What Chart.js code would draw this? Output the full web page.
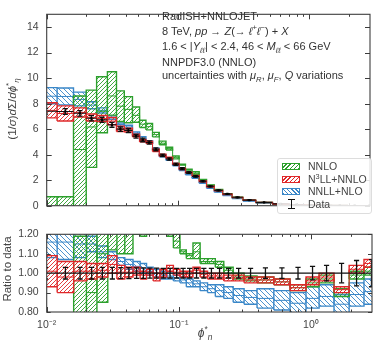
<!DOCTYPE html>
<html><head><meta charset="utf-8">
<script src="https://cdn.jsdelivr.net/npm/chart.js@4.4.0/dist/chart.umd.min.js"></script>
<style>
body{margin:0;background:#fff;width:374px;height:340px;overflow:hidden;position:relative;font-family:"Liberation Sans",Arial,sans-serif;color:#333}
canvas{position:absolute;left:0}
#c1{top:0}
#c2{top:220px}
.t{position:absolute;left:162px;font-size:11px;line-height:13px;white-space:nowrap;color:#333}
.t sub,.t sup{font-size:70%;line-height:0}
.ax{position:absolute;font-size:11.5px;line-height:14px;white-space:nowrap;color:#444;transform:translate(-50%,-50%) rotate(-90deg)}
.ax sub,.ax sup{font-size:70%;line-height:0}
#xt{position:absolute;left:205px;top:333px;transform:translate(-50%,-50%);font-size:12px;color:#444;white-space:nowrap}
#xt sub,#xt sup{font-size:70%;line-height:0}
#leg{position:absolute;left:277px;top:158px;width:95px;height:56px;background:rgba(255,255,255,0.85);border:1px solid #ddd;border-radius:3px;box-sizing:border-box}
.le{position:absolute;left:30px;font-size:10.5px;line-height:12px;color:#444;white-space:nowrap}
.le sup{font-size:70%;line-height:0}
.pt{position:absolute;left:4px;width:18px;height:7px;box-sizing:border-box;border:1.5px solid}
</style></head><body>
<canvas id="c1" width="374" height="220"></canvas>
<canvas id="c2" width="374" height="120"></canvas>

<div class="t" style="top:10px">RadISH+NNLOJET</div>
<div class="t" style="top:25px">8 TeV, <i>pp</i> → <i>Z</i>(→ <i>ℓ</i><sup>+</sup><i>ℓ</i><sup>−</sup>) + <i>X</i></div>
<div class="t" style="top:40px">1.6 &lt; |<i>Y</i><sub><i>ℓℓ</i></sub>| &lt; 2.4, 46 &lt; <i>M</i><sub><i>ℓℓ</i></sub> &lt; 66 GeV</div>
<div class="t" style="top:56px">NNPDF3.0 (NNLO)</div>
<div class="t" style="top:69px">uncertainties with <i>μ</i><sub><i>R</i></sub>, <i>μ</i><sub><i>F</i></sub>, <i>Q</i> variations</div>

<div class="ax" style="left:12px;top:109px">(1/<i>σ</i>)<i>d</i>Σ/<i>dϕ</i><sup>*</sup><sub><i>η</i></sub></div>
<div class="ax" style="left:7px;top:269px">Ratio to data</div>
<div id="xt"><i>ϕ</i><sup>*</sup><sub><i>η</i></sub></div>

<div id="leg">
 <div class="pt" style="top:4px;border-color:#2ca02c;background:repeating-linear-gradient(-45deg,#2ca02c 0 1px,#fff 1px 3px)"></div><div class="le" style="top:1px">NNLO</div>
 <div class="pt" style="top:17px;border-color:#e0282a;background:repeating-linear-gradient(-45deg,#e0282a 0 1px,#fff 1px 3px)"></div><div class="le" style="top:14px">N<sup>3</sup>LL+NNLO</div>
 <div class="pt" style="top:29px;border-color:#3a87c8;background:repeating-linear-gradient(45deg,#3a87c8 0 1px,#fff 1px 3px)"></div><div class="le" style="top:26px">NNLL+NLO</div>
 <div style="position:absolute;left:13px;top:40px;width:1.3px;height:10px;background:#111"></div>
 <div style="position:absolute;left:10px;top:40px;width:7px;height:1.3px;background:#111"></div>
 <div style="position:absolute;left:10px;top:49px;width:7px;height:1.3px;background:#111"></div>
 <div class="le" style="top:39px">Data</div>
</div>

<script>
// ---------- data ----------
const phiEdges = [0.008,0.012,0.016,0.020,0.024,0.029,0.034,0.039,0.045,0.051,0.057,0.064,0.072,0.081,0.091,0.102,0.114,0.128,0.145,0.165,0.189,0.219,0.258,0.312,0.391,0.524,0.695,0.918,1.153,1.496,1.947,2.522,3.277];

const dataVals   = [7.40,7.38,7.24,6.85,6.73,6.34,6.00,5.90,5.45,5.15,4.95,4.42,3.95,3.66,3.25,2.90,2.60,2.30,1.92,1.52,1.20,0.92,0.66,0.44,0.26,0.14,0.075,0.040,0.022,0.012,0.006,0.003];
const dataRelErr = [0.03,0.03,0.03,0.03,0.03,0.03,0.028,0.028,0.027,0.027,0.026,0.026,0.025,0.025,0.025,0.025,0.025,0.025,0.025,0.025,0.025,0.025,0.025,0.025,0.027,0.027,0.03,0.035,0.04,0.05,0.065,0.07];

// NNLO (top panel)
const nnloLo  = [-2,-2,-2,3.0,5.72,7.1,6.6,6.5,6.54,6.13,5.94,5.39,4.78,4.36,3.67,3.19,2.80,2.47,2.02,1.60,1.24,0.92,0.64,0.422,0.247,0.132,0.068,0.037,0.021,0.0106,0.0058,0.0030];
const nnloMid = [-1,-1,4.4,6.17,7.4,8.6,7.8,7.55,7.08,6.39,6.19,5.57,4.90,4.47,3.79,3.22,2.83,2.55,2.04,1.61,1.25,0.934,0.65,0.427,0.251,0.134,0.069,0.038,0.0213,0.0108,0.0059,0.0030];
const nnloHi  = [0.7,0.7,8.6,9.06,10.1,10.5,9.0,8.55,7.74,6.7,6.44,5.75,5.06,4.58,3.9,3.25,2.86,2.66,2.06,1.63,1.27,0.948,0.66,0.433,0.255,0.136,0.0705,0.039,0.0218,0.011,0.0061,0.0031];
// N3LL+NNLO (top panel)
const n3llLo  = [6.88,6.64,6.95,6.64,6.60,6.34,5.82,5.78,5.40,5.00,4.90,4.24,3.87,3.70,3.22,2.84,2.55,2.30,1.88,1.47,1.16,0.88,0.63,0.42,0.247,0.132,0.068,0.0376,0.0211,0.0108,0.0060,0.0031];
const n3llMid = [7.47,7.23,7.31,6.92,6.83,6.63,6.03,5.93,5.50,5.10,4.97,4.33,3.95,3.75,3.27,2.89,2.59,2.33,1.91,1.50,1.18,0.90,0.64,0.425,0.251,0.134,0.069,0.0384,0.0216,0.0110,0.0061,0.0032];
const n3llHi  = [8.07,7.82,7.67,7.19,7.07,6.91,6.24,6.08,5.61,5.20,5.05,4.42,4.03,3.81,3.32,2.93,2.63,2.37,1.94,1.52,1.20,0.91,0.65,0.43,0.255,0.136,0.0705,0.0392,0.022,0.0112,0.0062,0.0032];
// NNLL+NLO (top panel)
const nnllLo  = [7.99,7.90,7.82,7.60,7.27,6.78,6.24,6.02,5.50,5.15,4.90,4.33,3.83,3.55,3.12,2.76,2.42,2.14,1.75,1.37,1.06,0.80,0.56,0.37,0.213,0.113,0.059,0.033,0.018,0.0095,0.0050,0.0025];
const nnllMid = [8.58,8.56,8.33,7.88,7.47,6.91,6.36,6.17,5.64,5.28,5.00,4.42,3.91,3.61,3.17,2.80,2.47,2.17,1.79,1.40,1.09,0.83,0.58,0.385,0.226,0.120,0.063,0.035,0.019,0.010,0.0053,0.0027];
const nnllHi  = [9.25,9.23,8.90,8.15,7.67,7.04,6.48,6.31,5.78,5.41,5.10,4.51,3.99,3.66,3.22,2.84,2.52,2.21,1.82,1.43,1.13,0.86,0.61,0.40,0.239,0.127,0.068,0.037,0.021,0.0107,0.0057,0.0029];

// Ratio panel (theory / data)
const rNnloLo  = [0,0,0,0.45,0.85,1.12,1.1,1.1,1.2,1.19,1.2,1.22,1.21,1.19,1.13,1.10,1.075,1.075,1.05,1.05,1.03,1.0,0.97,0.96,0.95,0.94,0.91,0.93,0.95,0.88,0.97,0.99];
const rNnloMid = [0.05,0.05,0.61,0.9,1.1,1.35,1.3,1.28,1.3,1.24,1.25,1.26,1.24,1.22,1.165,1.11,1.09,1.11,1.06,1.06,1.045,1.015,0.985,0.97,0.965,0.955,0.925,0.95,0.97,0.9,0.99,1.01];
const rNnloHi  = [0.1,0.1,1.19,1.32,1.5,1.66,1.5,1.45,1.42,1.3,1.3,1.3,1.28,1.25,1.2,1.12,1.1,1.155,1.075,1.075,1.06,1.03,1.0,0.985,0.98,0.97,0.94,0.97,0.99,0.92,1.01,1.03];
const rN3llLo  = [0.93,0.90,0.96,0.97,0.98,1.00,0.97,0.98,0.99,0.97,0.99,0.96,0.98,1.01,0.99,0.98,0.98,1.00,0.98,0.97,0.97,0.96,0.96,0.95,0.95,0.94,0.91,0.94,0.96,0.90,1.00,1.03];
const rN3llMid = [1.01,0.98,1.01,1.01,1.015,1.045,1.005,1.005,1.01,0.99,1.005,0.98,1.0,1.025,1.005,0.995,0.995,1.015,0.995,0.985,0.985,0.975,0.975,0.965,0.965,0.955,0.925,0.96,0.98,0.915,1.02,1.05];
const rN3llHi  = [1.09,1.06,1.06,1.05,1.05,1.09,1.04,1.03,1.03,1.01,1.02,1.00,1.02,1.04,1.02,1.01,1.01,1.03,1.01,1.00,1.00,0.99,0.99,0.98,0.98,0.97,0.94,0.98,1.00,0.93,1.04,1.07];
const rNnllLo  = [1.08,1.07,1.08,1.11,1.08,1.07,1.04,1.02,1.01,1.00,0.99,0.98,0.97,0.97,0.96,0.95,0.93,0.93,0.91,0.90,0.88,0.87,0.85,0.84,0.82,0.81,0.79,0.82,0.83,0.79,0.83,0.84];
const rNnllMid = [1.16,1.16,1.15,1.15,1.11,1.09,1.06,1.045,1.035,1.025,1.01,1.0,0.99,0.985,0.975,0.965,0.95,0.945,0.93,0.92,0.91,0.90,0.885,0.875,0.87,0.86,0.845,0.87,0.88,0.84,0.89,0.905];
const rNnllHi  = [1.25,1.25,1.23,1.19,1.14,1.11,1.08,1.07,1.06,1.05,1.03,1.02,1.01,1.00,0.99,0.98,0.97,0.96,0.95,0.94,0.94,0.93,0.92,0.91,0.92,0.91,0.90,0.93,0.94,0.89,0.95,0.97];

// axes
const xMin = 0.01, xMax = 2.9;
const xMajorTicks = [0.01, 0.1, 1];
const xMajorLabels = ['10⁻²', '10⁻¹', '10⁰'];
const yTicksTop = [0,2,4,6,8,10,12,14];
const yTicksRatio = [0.80,0.85,0.90,0.95,1.00,1.05,1.10,1.15,1.20];

// ---------- styling ----------
const GREEN = '#2ca02c', RED = '#e0282a', BLUE = '#3a87c8';
const FRAME = '#3c3c3c', TICKTXT = '#444';
const FONT = '"Liberation Sans", Arial, sans-serif';

function hatch(color, dir, s){
  const c = document.createElement('canvas'); c.width = c.height = s;
  const g = c.getContext('2d'); g.strokeStyle = color; g.lineWidth = 0.9;
  g.beginPath();
  if (dir > 0){ g.moveTo(-1,s+1); g.lineTo(s+1,-1); g.moveTo(-1,1); g.lineTo(1,-1); g.moveTo(s-1,s+1); g.lineTo(s+1,s-1); }
  else { g.moveTo(-1,-1); g.lineTo(s+1,s+1); g.moveTo(-1,s-1); g.lineTo(1,s+1); g.moveTo(s-1,-1); g.lineTo(s+1,1); }
  g.stroke();
  return g.createPattern(c, 'repeat');
}

// x tick list (decades plus 2..9 minors)
const xTickList = [];
for (const d of xMajorTicks){ for (let k=1;k<=9;k++){ const v = +(d*k).toPrecision(3); if (v>=xMin && v<=xMax) xTickList.push({value:v, major:k===1}); } }

function bandSets(lo, mid, hi, color, pattern){
  const step = arr => phiEdges.map((e,i)=>({x:e, y:arr[Math.min(i, arr.length-1)]}));
  const outline = [];
  for (let i=0;i<lo.length;i++){
    outline.push({x:phiEdges[i],y:lo[i]},{x:phiEdges[i],y:hi[i]},{x:phiEdges[i+1],y:hi[i]},{x:phiEdges[i+1],y:lo[i]},{x:phiEdges[i],y:lo[i]},{x:phiEdges[i],y:null});
  }
  return [
    {data:outline, borderColor:color, borderWidth:1.4, spanGaps:false, fill:false},
    {data:step(mid), borderColor:color, borderWidth:1, stepped:'before', fill:false},
    {data:step(lo), borderColor:'rgba(0,0,0,0)', borderWidth:0, stepped:'before', fill:false},
    {data:step(hi), borderColor:'rgba(0,0,0,0)', borderWidth:0, stepped:'before', fill:'-1', backgroundColor:pattern},
  ];
}

function dataSets(cent, err, withPoints){
  const capF = Math.pow(10, 2.6/132);
  const h=[], v=[], caps=[], pts=[];
  for (let i=0;i<cent.length;i++){
    const c = Math.sqrt(phiEdges[i]*phiEdges[i+1]);
    h.push({x:phiEdges[i],y:cent[i]},{x:phiEdges[i+1],y:cent[i]},{x:phiEdges[i+1],y:null});
    v.push({x:c,y:cent[i]-err[i]},{x:c,y:cent[i]+err[i]},{x:c,y:null});
    for (const s of [-1,1]) caps.push({x:c/capF,y:cent[i]+s*err[i]},{x:c*capF,y:cent[i]+s*err[i]},{x:c,y:null});
    pts.push({x:c,y:cent[i]});
  }
  const out = [
    {data:v, borderColor:'#111', borderWidth:1.3, spanGaps:false, fill:false},
    {data:caps, borderColor:'#111', borderWidth:1.3, spanGaps:false, fill:false},
    {data:h, borderColor:'#111', borderWidth:1.1, spanGaps:false, fill:false},
  ];
  if (withPoints) out.unshift({data:pts, showLine:false, pointRadius:1.6, pointStyle:'rect', pointBackgroundColor:'#000', pointBorderWidth:0});
  return out;
}

const framePlugin = {
  id:'frame',
  afterDatasetsDraw(chart){
    const {ctx, chartArea:a, scales} = chart;
    ctx.save();
    ctx.strokeStyle = FRAME; ctx.lineWidth = 1;
    const ln = (x1,y1,x2,y2)=>{ ctx.beginPath(); ctx.moveTo(x1,y1); ctx.lineTo(x2,y2); ctx.stroke(); };
    scales.x.ticks.forEach(t=>{
      const px = Math.round(scales.x.getPixelForValue(t.value))+0.5;
      if (px < a.left || px > a.right) return;
      const L = t.major ? 5 : 2.5;
      ln(px,a.bottom,px,a.bottom-L); ln(px,a.top,px,a.top+L);
    });
    scales.y.ticks.forEach(t=>{
      const py = Math.round(scales.y.getPixelForValue(t.value))+0.5;
      const L = chart.canvas.id==='c1' ? 5 : 4;
      ln(a.left,py,a.left+L,py); ln(a.right,py,a.right-L,py);
    });
    ctx.lineWidth = 1.1;
    ctx.strokeRect(a.left, a.top, a.right-a.left, a.bottom-a.top);
    ctx.restore();
  }
};

function makeChart(id, sets, yMin, yMax, yTicks, yFmt, showX, pad, xHeight){
  return new Chart(document.getElementById(id), {
    type:'line',
    data:{datasets:sets},
    options:{
      responsive:false, animation:false, events:[], normalized:true,
      layout:{padding:pad},
      plugins:{legend:{display:false}, tooltip:{enabled:false}},
      elements:{point:{radius:0}, line:{tension:0}},
      scales:{
        x:{type:'logarithmic', min:xMin, max:xMax,
           grid:{display:false, drawTicks:false}, border:{display:false},
           afterBuildTicks:s=>{ s.ticks = xTickList.map(t=>({value:t.value, major:t.major})); },
           afterFit:s=>{ s.height = xHeight; },
           ticks:{display:showX, autoSkip:false, maxRotation:0, padding:7, color:TICKTXT, font:{family:FONT,size:10.5},
             callback:(v)=>{ const k = xMajorTicks.findIndex(m=>Math.abs(m-v)<1e-9); return k>=0 ? xMajorLabels[k] : ''; }}},
        y:{type:'linear', min:yMin, max:yMax,
           grid:{display:false, drawTicks:false}, border:{display:false},
           afterBuildTicks:s=>{ s.ticks = yTicks.map(v=>({value:v})); },
           afterFit:s=>{ s.width = 46.7; },
           ticks:{padding:8, color:TICKTXT, font:{family:FONT,size:10.5}, callback:yFmt}}
      }
    },
    plugins:[framePlugin]
  });
}

const pG = hatch(GREEN, 1, 4), pR = hatch(RED, 1, 4), pB = hatch(BLUE, -1, 5);
const pG2 = hatch(GREEN, 1, 4), pR2 = hatch(RED, 1, 4), pB2 = hatch(BLUE, -1, 5);

const dataErr = dataVals.map((v,i)=>v*dataRelErr[i]);
const topSets = [
  ...dataSets(dataVals, dataErr, true),
  ...bandSets(n3llLo, n3llMid, n3llHi, RED, pR),
  ...bandSets(nnloLo, nnloMid, nnloHi, GREEN, pG),
  ...bandSets(nnllLo, nnllMid, nnllHi, BLUE, pB),
];
makeChart('c1', topSets, 0, 15, yTicksTop, v=>String(v), false, {left:0,right:2,top:1,bottom:3.3}, 0);

const ratioCentral = dataVals.map(v=>v/v);
const ratioSets = [
  ...dataSets(ratioCentral, dataRelErr, false),
  ...bandSets(rN3llLo, rN3llMid, rN3llHi, RED, pR2),
  ...bandSets(rNnloLo, rNnloMid, rNnloHi, GREEN, pG2),
  ...bandSets(rNnllLo, rNnllMid, rNnllHi, BLUE, pB2),
];
makeChart('c2', ratioSets, 0.8, 1.2, yTicksRatio, v=>v.toFixed(2), true, {left:0,right:2,top:6,bottom:0}, 28);
</script>
</body></html>
